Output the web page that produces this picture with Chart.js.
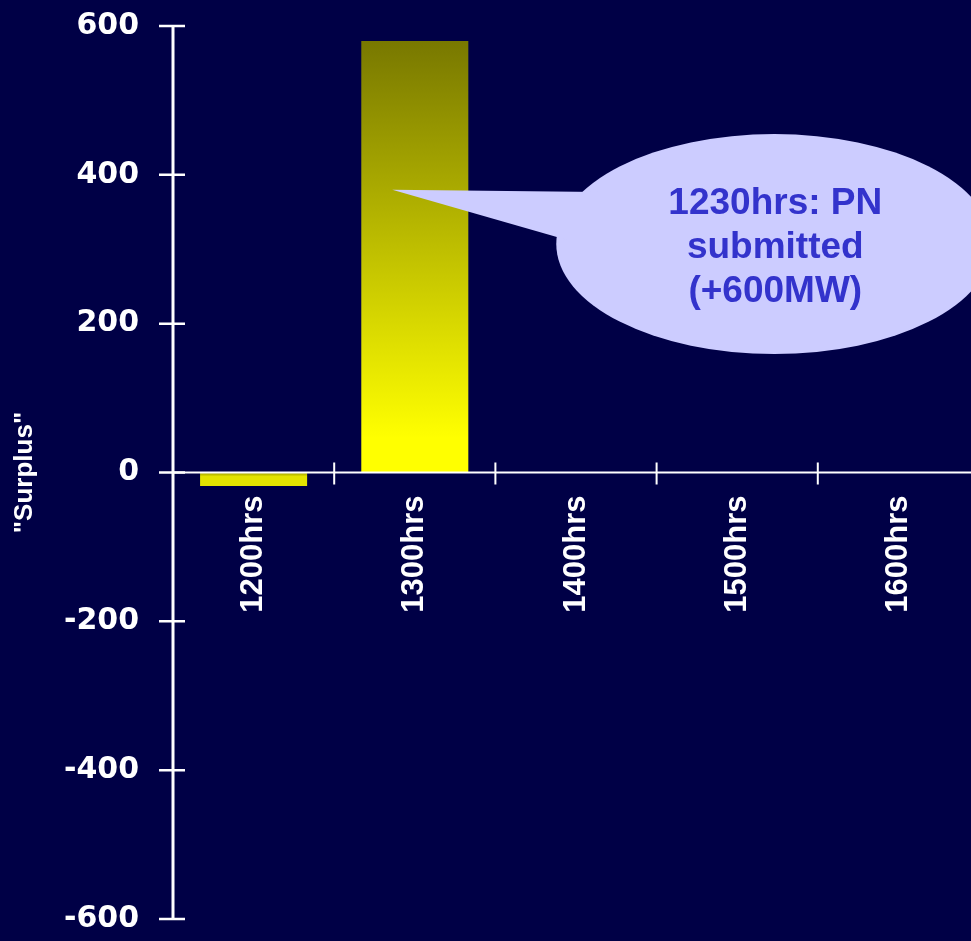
<!DOCTYPE html>
<html><head><meta charset="utf-8">
<script src="https://cdn.jsdelivr.net/npm/chart.js@4/dist/chart.umd.min.js"></script>
<style>
html,body{margin:0;padding:0;background:#000046;overflow:hidden;width:971px;height:941px}
#wrap{width:971px;height:941px;overflow:hidden;position:relative}
canvas{display:block}
</style></head>
<body><div id="wrap"><canvas id="c" width="990" height="941"></canvas></div>
<script>
// ---- data ----
const categories = ['1200hrs', '1300hrs', '1400hrs', '1500hrs', '1600hrs'];
const surplus = [-18, 580, null, null, null];
const yTicks = [-600, -400, -200, 0, 200, 400, 600];
const yTitle = '"Surplus"';
const calloutLines = ['1230hrs: PN', 'submitted', '(+600MW)'];

// ---- annotation placement (in scale units) ----
const callout = { tip: { x: 0.86, y: 380 }, center: { x: 3.23, y: 307 }, rx: 218, ry: 110 };

const BG = '#000046';

function barFill(ctx) {
  const chart = ctx.chart;
  const v = ctx.raw;
  if (!chart.chartArea || v == null) return '#ffff00';
  const y = chart.scales.y;
  const top = y.getPixelForValue(Math.max(v, 0));
  const bot = y.getPixelForValue(Math.min(v, 0));
  const g = chart.ctx.createLinearGradient(0, top, 0, bot);
  if (v >= 0) {
    g.addColorStop(0, 'rgb(120,120,0)');
    g.addColorStop(0.92, '#ffff00');
    g.addColorStop(1, '#ffff00');
  } else {
    g.addColorStop(0, 'rgb(150,150,0)');
    g.addColorStop(0.3, 'rgb(228,228,0)');
    g.addColorStop(1, 'rgb(228,228,0)');
  }
  return g;
}

const overlay = {
  id: 'overlay',
  beforeDraw(chart) {
    const c = chart.ctx;
    c.save();
    c.fillStyle = BG;
    c.fillRect(0, 0, chart.width, chart.height);
    c.restore();
  },
  afterDraw(chart) {
    const { ctx: c, chartArea: ca, scales: { x, y } } = chart;
    c.save();
    c.strokeStyle = '#ffffff';
    const y0 = y.getPixelForValue(0);
    // y axis line
    c.lineWidth = 3;
    c.beginPath();
    c.moveTo(ca.left, y.getPixelForValue(yTicks[yTicks.length - 1]));
    c.lineTo(ca.left, y.getPixelForValue(yTicks[0]));
    c.stroke();
    // x axis line
    c.lineWidth = 2;
    c.beginPath();
    c.moveTo(ca.left, y0);
    c.lineTo(ca.right + 20, y0);
    c.stroke();
    // y ticks (crossing)
    c.lineWidth = 2.5;
    c.beginPath();
    yTicks.forEach(v => {
      const py = y.getPixelForValue(v);
      c.moveTo(ca.left - 14, py);
      c.lineTo(ca.left + 12, py);
    });
    c.stroke();
    // x boundary ticks (crossing)
    c.lineWidth = 2;
    c.beginPath();
    for (let i = 1; i <= categories.length; i++) {
      const px = x.getPixelForValue(i - 0.5);
      c.moveTo(px, y0 - 10);
      c.lineTo(px, y0 + 12);
    }
    c.stroke();

    // callout
    const cx = x.getPixelForValue(callout.center.x);
    const cy = y.getPixelForValue(callout.center.y);
    const tx = x.getPixelForValue(callout.tip.x);
    const ty = y.getPixelForValue(callout.tip.y);
    c.fillStyle = '#ccccff';
    c.beginPath();
    c.ellipse(cx, cy, callout.rx, callout.ry, 0, 0, Math.PI * 2);
    c.fill();
    c.beginPath();
    c.moveTo(tx, ty);
    c.lineTo(cx - 175, cy - 52);
    c.lineTo(cx - 200, cy - 2);
    c.closePath();
    c.fill();
    c.fillStyle = '#3333cc';
    c.font = 'bold 37px "Liberation Sans", Arial, sans-serif';
    c.textAlign = 'center';
    c.textBaseline = 'alphabetic';
    calloutLines.forEach((t, i) => {
      c.fillText(t, cx + 1, cy - 30 + i * 44);
    });
    c.restore();
  }
};

new Chart(document.getElementById('c'), {
  type: 'bar',
  data: {
    labels: categories,
    datasets: [{
      data: surplus,
      backgroundColor: barFill,
      borderWidth: 0,
      barPercentage: 0.664,
      categoryPercentage: 1.0
    }]
  },
  options: {
    responsive: false,
    animation: false,
    devicePixelRatio: 1,
    layout: { padding: { left: 0, right: 11, top: 26, bottom: 21 } },
    plugins: { legend: { display: false }, tooltip: { enabled: false } },
    scales: {
      x: {
        position: { y: 0 },
        offset: true,
        grid: { display: false, drawTicks: false },
        border: { display: false },
        ticks: {
          color: '#ffffff',
          font: { family: '"Liberation Sans", Arial, sans-serif', size: 31, weight: 'bold' },
          minRotation: 90, maxRotation: 90,
          autoSkip: false,
          padding: 23
        }
      },
      y: {
        min: yTicks[0], max: yTicks[yTicks.length - 1],
        afterBuildTicks(s) { s.ticks = yTicks.map(v => ({ value: v })); },
        afterFit(s) { s.width = 173; },
        grid: { display: false, drawTicks: true, tickLength: 30 },
        border: { display: false },
        ticks: {
          color: '#ffffff',
          font: { family: '"DejaVu Sans", sans-serif', size: 30, weight: 'bold' },
          padding: 4
        },
        title: {
          display: true,
          text: yTitle,
          color: '#ffffff',
          font: { family: '"Liberation Sans", Arial, sans-serif', size: 26, weight: 'bold' },
          padding: { top: 9, bottom: 0 }
        }
      }
    }
  },
  plugins: [overlay]
});
</script>
</body></html>
